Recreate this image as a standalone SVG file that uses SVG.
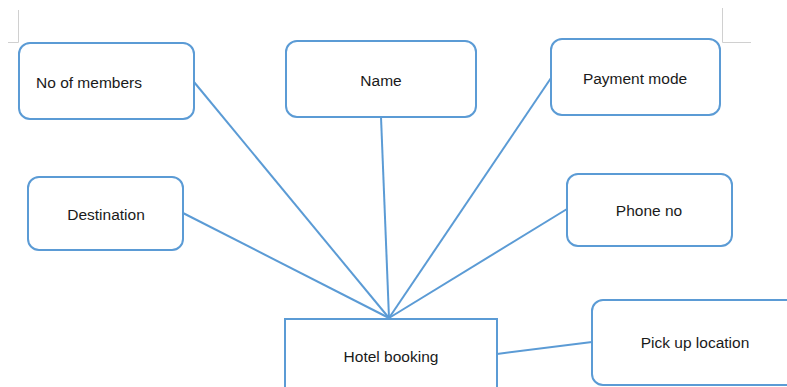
<svg xmlns="http://www.w3.org/2000/svg" width="787" height="387" viewBox="0 0 787 387">
<style>
.box{fill:#ffffff;stroke:#5b9bd5;stroke-width:2}
.lbl{font-family:"Liberation Sans",Arial,sans-serif;font-size:15.5px;fill:#1a1a1a;text-anchor:middle;dominant-baseline:central}
.edge{stroke:#5b9bd5;stroke-width:2;fill:none}
.mark{stroke:#d0d0d0;stroke-width:1;fill:none}
</style>
<rect width="787" height="387" fill="#ffffff"/>
<g id="page-marks">
<path class="mark" d="M18.5 10 V42.5 H8"/>
<path class="mark" d="M722.5 8 V42.5 H751"/>
</g>
<g id="connectors">
<line class="edge" x1="194" y1="82" x2="389" y2="318"/>
<line class="edge" x1="381" y1="117" x2="389" y2="318"/>
<line class="edge" x1="551" y1="78" x2="389" y2="318"/>
<line class="edge" x1="183" y1="213" x2="389" y2="318"/>
<line class="edge" x1="567" y1="209" x2="389" y2="318"/>
<line class="edge" x1="497" y1="354" x2="592" y2="342"/>
</g>
<g id="no-of-members">
<rect class="box" x="19" y="43" width="175" height="76" rx="11"/>
<text class="lbl" x="89" y="82">No of members</text>
</g>
<g id="name">
<rect class="box" x="286" y="41" width="190" height="76" rx="11"/>
<text class="lbl" x="381" y="80">Name</text>
</g>
<g id="payment-mode">
<rect class="box" x="551" y="39" width="169" height="76" rx="11"/>
<text class="lbl" x="635" y="78">Payment mode</text>
</g>
<g id="destination">
<rect class="box" x="28" y="177" width="155" height="73" rx="11"/>
<text class="lbl" x="106" y="214">Destination</text>
</g>
<g id="phone-no">
<rect class="box" x="567" y="174" width="165" height="72" rx="11"/>
<text class="lbl" x="649" y="210">Phone no</text>
</g>
<g id="hotel-booking">
<rect class="box" x="285" y="319" width="212" height="80"/>
<text class="lbl" x="391" y="356">Hotel booking</text>
</g>
<g id="pick-up-location">
<rect class="box" x="592" y="300" width="215" height="85" rx="11"/>
<text class="lbl" x="695" y="342">Pick up location</text>
</g>
</svg>
